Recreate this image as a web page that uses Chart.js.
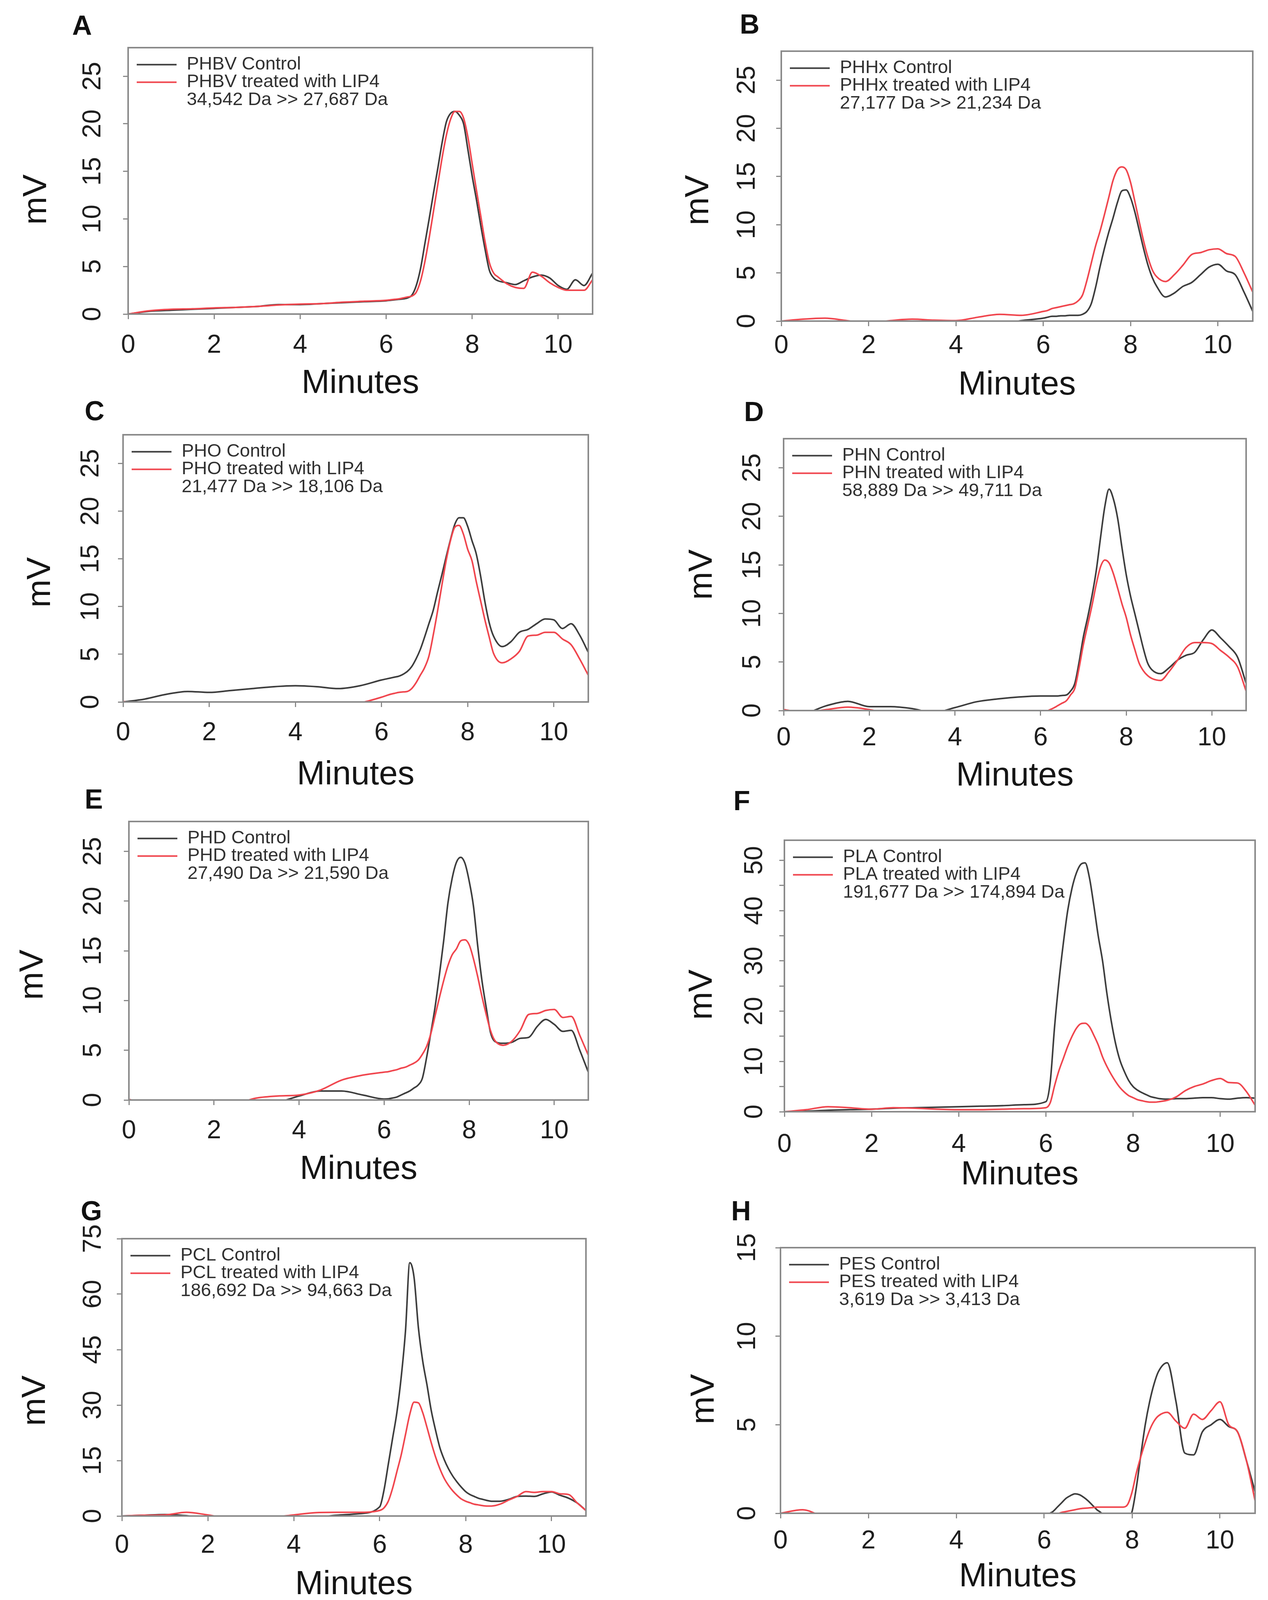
<!DOCTYPE html>
<html>
<head>
<meta charset="utf-8">
<script src="https://cdn.jsdelivr.net/npm/chart.js@4.4.1/dist/chart.umd.min.js"></script>
<style>
  html, body { margin: 0; background: #fff; }
  body { width: 3246px; position: relative; overflow: hidden; font-family: "Liberation Sans", Arial, sans-serif; }
  .panel { position: absolute; }
  .letter { position: absolute; font-weight: bold; color: #111; transform: translate(-50%, -50%); }
</style>
</head>
<body>
<script>
// retention time grid (minutes), shared by every trace
const minutes = [0, 0.5, 1, 1.5, 2, 2.5, 3, 3.5, 4, 4.5, 5, 5.5,
  6, 6.1, 6.2, 6.3, 6.4, 6.5, 6.6, 6.7, 6.8, 6.9, 7, 7.1, 7.2, 7.3, 7.4, 7.5, 7.6, 7.7, 7.8, 7.9, 8, 8.1, 8.2, 8.3, 8.4, 8.5, 8.6,
  8.8, 9, 9.2, 9.4, 9.6, 9.8, 10, 10.2, 10.4, 10.6, 10.8];

// detector signal (mV)
const phbvControl = [0, 0.3, 0.4, 0.5, 0.6, 0.7, 0.8, 1.0, 1.0, 1.1, 1.2, 1.3,
  1.4, 1.45, 1.5, 1.55, 1.6, 1.7, 2.0, 3.0, 4.8, 7.4, 10.0, 12.7, 15.3, 18.0, 20.2, 21.1, 21.3, 20.9, 20.0, 17.3, 14.5, 12.0, 9.3, 6.8, 4.6, 3.8, 3.5,
  3.3, 3.1, 3.5, 3.9, 4.1, 3.8, 3.0, 2.6, 3.6, 3.0, 4.3];
const phbvTreated = [0, 0.35, 0.5, 0.55, 0.65, 0.7, 0.8, 0.95, 1.05, 1.1, 1.25, 1.35,
  1.45, 1.5, 1.55, 1.6, 1.7, 1.8, 1.9, 2.3, 3.5, 5.5, 8.0, 10.8, 13.6, 16.4, 18.8, 20.5, 21.3, 21.3, 20.6, 18.6, 15.8, 13.0, 10.3, 7.6, 5.4, 4.3, 3.9,
  3.2, 2.8, 2.7, 4.4, 4.0, 3.3, 2.8, 2.5, 2.5, 2.5, 3.6];

const phhxControl = [0, -0.3, -0.3, -0.3, -0.3, -0.3, -0.3, -0.3, -0.3, -0.3, -0.3, 0.05,
  0.3, 0.4, 0.5, 0.5, 0.55, 0.55, 0.6, 0.6, 0.6, 0.7, 1.0, 1.8, 3.5, 5.6, 7.5, 9.2, 10.7, 12.3, 13.5, 13.6, 12.8, 11.3, 9.4, 7.5, 5.8, 4.5, 3.6,
  2.5, 2.9, 3.6, 4.0, 4.8, 5.6, 5.9, 5.2, 4.8, 3.0, 1.0];
const phhxTreated = [0, 0.2, 0.3, 0.05, -0.2, 0.05, 0.2, 0.1, 0.05, 0.4, 0.7, 0.6,
  1.0, 1.1, 1.3, 1.4, 1.5, 1.6, 1.7, 1.8, 2.1, 2.7, 4.2, 6.0, 7.8, 9.3, 11.0, 12.8, 14.6, 15.7, 16.0, 15.7, 14.4, 12.4, 10.3, 8.3, 6.6, 5.3, 4.6,
  4.1, 4.8, 5.8, 6.9, 7.1, 7.4, 7.5, 7.0, 6.7, 5.0, 3.0];

const phoControl = [0, 0.3, 0.8, 1.1, 1.0, 1.2, 1.4, 1.6, 1.7, 1.6, 1.4, 1.7,
  2.3, 2.4, 2.5, 2.6, 2.7, 2.9, 3.2, 3.7, 4.5, 5.5, 6.8, 8.2, 9.6, 11.5, 13.3, 15.2, 17.0, 18.6, 19.3, 19.3, 18.4, 16.9, 15.5, 13.2, 10.5, 8.3, 6.9,
  5.8, 6.3, 7.3, 7.6, 8.2, 8.7, 8.6, 7.7, 8.2, 7.0, 5.2];
const phoTreated = [0.05, -0.3, -0.3, -0.3, -0.3, -0.3, -0.3, -0.3, -0.3, -0.3, -0.3, -0.1,
  0.5, 0.65, 0.8, 0.9, 1.0, 1.05, 1.1, 1.4, 2.0, 2.8, 3.6, 4.8, 7.0, 9.5, 12.2, 14.8, 16.9, 18.3, 18.5, 17.6, 16.0, 14.8, 12.6, 10.6, 8.6, 6.8, 5.1,
  4.1, 4.5, 5.3, 6.9, 7.0, 7.3, 7.3, 6.6, 6.0, 4.5, 2.8];

const phnControl = [0.05, -0.2, 0.5, 0.95, 0.4, 0.4, 0.2, -0.2, 0.3, 0.9, 1.2, 1.4,
  1.5, 1.5, 1.5, 1.5, 1.5, 1.55, 1.6, 2.0, 2.8, 5.0, 7.6, 9.6, 11.8, 14.4, 17.8, 21.0, 22.8, 21.8, 19.8, 16.8, 14.0, 11.8, 10.0, 8.2, 6.4, 4.9, 4.2,
  3.8, 4.4, 5.2, 5.7, 6.0, 7.3, 8.3, 7.5, 6.6, 5.5, 2.8];
const phnTreated = [0.1, -0.2, 0.1, 0.35, 0.1, -0.3, -0.3, -0.3, -0.3, -0.3, -0.3, -0.3,
  -0.3, -0.15, 0.05, 0.25, 0.5, 0.75, 1.0, 1.6, 2.3, 4.4, 6.8, 8.8, 10.8, 13.0, 14.8, 15.5, 15.2, 14.1, 12.6, 11.0, 9.6, 7.8, 6.3, 4.9, 4.1, 3.6, 3.3,
  3.1, 4.0, 5.2, 6.5, 7.0, 7.0, 6.9, 6.2, 5.5, 4.5, 2.0];

const phdControl = [-0.3, -0.3, -0.3, -0.3, -0.3, -0.3, -0.3, -0.2, 0.4, 0.9, 0.9, 0.5,
  0.1, 0.12, 0.2, 0.3, 0.5, 0.7, 0.9, 1.2, 1.5, 2.2, 4.3, 6.8, 9.4, 12.6, 16.0, 19.8, 22.3, 23.9, 24.4, 23.8, 22.0, 19.5, 15.5, 12.0, 9.3, 6.8, 5.9,
  5.7, 5.8, 6.2, 6.3, 7.4, 8.1, 7.6, 6.9, 7.0, 5.0, 2.8];
const phdTreated = [0.05, -0.3, -0.3, -0.3, -0.3, -0.3, 0.2, 0.4, 0.5, 1.0, 2.0, 2.5,
  2.8, 2.85, 2.95, 3.05, 3.2, 3.3, 3.5, 3.7, 4.0, 4.6, 5.4, 6.7, 8.5, 10.3, 12.0, 13.5, 14.6, 15.2, 16.0, 16.1, 15.6, 14.2, 12.4, 10.4, 8.6, 7.0, 6.0,
  5.5, 5.9, 7.0, 8.6, 8.7, 9.0, 9.1, 8.3, 8.4, 6.5, 4.5];

const plaControl = [0, 0.1, 0.3, 0.4, 0.5, 0.7, 0.8, 0.9, 1.0, 1.1, 1.2, 1.4,
  2.0, 6.0, 17.0, 26.0, 33.5, 40.0, 44.5, 47.5, 49.2, 49.5, 46.5, 41.0, 35.0, 30.0, 23.5, 18.0, 13.5, 10.2, 8.0, 6.2, 5.0, 4.3, 3.8, 3.4, 3.0, 2.8, 2.6,
  2.5, 2.6, 2.6, 2.7, 2.8, 2.8, 2.6, 2.5, 2.7, 2.8, 2.7];
const plaTreated = [0, 0.4, 1.0, 0.8, 0.5, 0.8, 0.7, 0.5, 0.4, 0.4, 0.5, 0.6,
  0.8, 1.8, 5.2, 8.2, 10.6, 13.0, 15.0, 16.6, 17.5, 17.6, 16.9, 15.2, 13.3, 10.9, 9.0, 7.4, 6.0, 4.8, 3.9, 3.2, 2.8, 2.4, 2.2, 2.0, 1.9, 1.9, 2.0,
  2.3, 3.0, 4.2, 5.0, 5.5, 6.2, 6.6, 5.8, 5.7, 4.0, 1.3];

const pclControl = [0, 0.2, 0.4, 0.1, -0.5, -0.5, -0.5, -0.5, -0.5, -0.3, 0.2, 0.6,
  2.5, 7.0, 14.0, 21.0, 28.0, 37.5, 50.0, 68.5, 64.5, 51.0, 42.0, 35.5, 28.5, 23.2, 18.5, 15.3, 12.8, 10.8, 9.2, 7.8, 6.6, 5.8, 5.3, 4.8, 4.5, 4.2, 4.0,
  4.0, 4.5, 5.3, 5.4, 5.3, 6.0, 6.5, 5.6, 4.8, 3.5, 1.5];
const pclTreated = [0, 0.2, 0.3, 1.0, 0.3, -0.5, -0.5, -0.3, 0.3, 0.9, 1.0, 1.0,
  1.5, 2.2, 4.0, 7.5, 12.0, 16.5, 22.0, 27.5, 30.8, 30.6, 28.0, 24.0, 19.8, 16.0, 12.8, 10.2, 8.3, 6.8, 5.6, 4.6, 4.0, 3.6, 3.2, 3.0, 2.8, 2.7, 2.7,
  3.2, 4.3, 5.3, 6.6, 6.4, 6.6, 6.6, 6.0, 5.8, 3.5, 1.5];

const pesControl = [0, -0.3, -0.3, -0.3, -0.3, -0.3, -0.3, -0.3, -0.3, -0.3, -0.3, -0.3,
  -0.3, -0.05, 0.1, 0.35, 0.6, 0.85, 1.0, 1.1, 1.05, 0.9, 0.7, 0.45, 0.2, 0.02, -0.3, -0.4, -0.4, -0.4, -0.4, -0.3, 0.1, 1.5, 3.3, 5.0, 6.3, 7.3, 8.0,
  8.5, 6.3, 3.4, 3.3, 4.6, 5.0, 5.3, 4.9, 4.6, 3.0, 1.2];
const pesTreated = [0, 0.2, -0.2, -0.3, -0.3, -0.3, -0.3, -0.3, -0.3, -0.3, -0.3, -0.3,
  -0.3, -0.3, -0.2, -0.05, 0.05, 0.1, 0.15, 0.2, 0.25, 0.28, 0.3, 0.32, 0.35, 0.35, 0.35, 0.35, 0.35, 0.35, 0.35, 0.5, 1.2, 2.3, 3.2, 4.0, 4.7, 5.2, 5.5,
  5.7, 5.2, 4.8, 5.6, 5.3, 5.8, 6.3, 5.0, 4.6, 3.0, 0.7];

// legend texts
const phbvNames = ['PHBV Control', 'PHBV treated with LIP4', '34,542 Da >> 27,687 Da'];
const phhxNames = ['PHHx Control', 'PHHx treated with LIP4', '27,177 Da >> 21,234 Da'];
const phoNames = ['PHO Control', 'PHO treated with LIP4', '21,477 Da >> 18,106 Da'];
const phnNames = ['PHN Control', 'PHN treated with LIP4', '58,889 Da >> 49,711 Da'];
const phdNames = ['PHD Control', 'PHD treated with LIP4', '27,490 Da >> 21,590 Da'];
const plaNames = ['PLA Control', 'PLA treated with LIP4', '191,677 Da >> 174,894 Da'];
const pclNames = ['PCL Control', 'PCL treated with LIP4', '186,692 Da >> 94,663 Da'];
const pesNames = ['PES Control', 'PES treated with LIP4', '3,619 Da >> 3,413 Da'];

// ticks
const xTicks = [0, 2, 4, 6, 8, 10];
const yTicks25 = [0, 5, 10, 15, 20, 25];
const yTicksPLA = [0, 5, 10, 15, 20, 25, 30, 35, 40, 45, 50];
const yTicksPCL = [0, 15, 30, 45, 60, 75];
const yTicksPES = [0, 5, 10, 15];

// layout of the 8 panels, in the 3246x4904 figure's pixels
// box = plot frame; *Off = distance of label centres from the frame
const panels = [
  { letter: 'A', at: [210, 78], box: [328, 146, 1517, 963], control: phbvControl, treated: phbvTreated, names: phbvNames,
    yMax: 28, yTicks: yTicks25, xTickOff: 97, minOff: 214, yTickOff: 89, mvOff: 234, mvDrop: 55 },
  { letter: 'B', at: [1919, 74], box: [2000, 157, 3207, 984], control: phhxControl, treated: phhxTreated, names: phhxNames,
    yMax: 28, yTicks: yTicks25, xTickOff: 76, minOff: 197, yTickOff: 86, mvOff: 211, mvDrop: 44 },
  { letter: 'C', at: [242, 1260], box: [315, 1332, 1506, 2152], control: phoControl, treated: phoTreated, names: phoNames,
    yMax: 28, yTicks: yTicks25, xTickOff: 95, minOff: 224, yTickOff: 81, mvOff: 211, mvDrop: 36 },
  { letter: 'D', at: [1930, 1262], box: [2006, 1344, 3190, 2178], control: phnControl, treated: phnTreated, names: phnNames,
    yMax: 28, yTicks: yTicks25, xTickOff: 85, minOff: 202, yTickOff: 78, mvOff: 208, mvDrop: 0 },
  { letter: 'E', at: [240, 2450], box: [330, 2518, 1506, 3371], control: phdControl, treated: phdTreated, names: phdNames,
    yMax: 28, yTicks: yTicks25, xTickOff: 96, minOff: 213, yTickOff: 90, mvOff: 245, mvDrop: 38 },
  { letter: 'F', at: [1899, 2454], box: [2008, 2575, 3213, 3408], control: plaControl, treated: plaTreated, names: plaNames,
    yMax: 54, yTicks: yTicksPLA, labelEvery: 10, xTickOff: 102, minOff: 194, yTickOff: 75, mvOff: 210, mvDrop: 58 },
  { letter: 'G', at: [234, 3712], box: [312, 3797, 1500, 4646], control: pclControl, treated: pclTreated, names: pclNames,
    yMax: 75, yTicks: yTicksPCL, xTickOff: 91, minOff: 211, yTickOff: 72, mvOff: 221, mvDrop: 74 },
  { letter: 'H', at: [1897, 3712], box: [1998, 3824, 3213, 4638], control: pesControl, treated: pesTreated, names: pesNames,
    yMax: 15, yTicks: yTicksPES, xTickOff: 86, minOff: 195, yTickOff: 83, mvOff: 195, mvDrop: 56 }
];

// the window can be shorter than the figure: squeeze the layout vertically to fit
const FIG_H = 4904;
const SY = Math.min(1, (window.innerHeight || FIG_H) / FIG_H);
document.body.style.height = Math.round(FIG_H * SY) + 'px';

const TICK_FONT = 66, TITLE_FONT = 86, LEGEND_FONT = 47, LETTER_FONT = 70;
const TICK_LEN = 13;
const AXIS_W = 330, AXIS_H = 240, PAD_T = 100, PAD_R = 40;
const frameColor = '#8a8a8a';
const controlColor = '#3d3d3d';
const treatedColor = '#f0464e';

Chart.defaults.font.family = '"Liberation Sans", Arial, sans-serif';

const measure = document.createElement('canvas').getContext('2d');
measure.font = TICK_FONT + 'px "Liberation Sans", Arial, sans-serif';
const halfWidest = measure.measureText('25').width / 2;
measure.font = TITLE_FONT + 'px "Liberation Sans", Arial, sans-serif';
const spaceW = measure.measureText(' ').width;

// box around the plot + the legend drawn inside it (like R's legend())
const boxLegend = {
  id: 'boxLegend',
  afterDraw(chart, args, opts) {
    const { ctx, chartArea: a } = chart;
    ctx.save();
    ctx.strokeStyle = frameColor;
    ctx.lineWidth = 4;
    ctx.strokeRect(a.left, a.top, a.right - a.left, a.bottom - a.top);
    ctx.font = LEGEND_FONT + 'px "Liberation Sans", Arial, sans-serif';
    ctx.textBaseline = 'middle';
    ctx.fillStyle = '#303030';
    const rows = chart.data.datasets.map(d => ({ text: d.label, color: d.borderColor }));
    rows.push({ text: opts.note });
    rows.forEach((row, i) => {
      const y = a.top + (52 + i * 54) * SY;
      if (row.color) {
        ctx.strokeStyle = row.color;
        ctx.lineWidth = 4;
        ctx.beginPath();
        ctx.moveTo(a.left + 22, y);
        ctx.lineTo(a.left + 124, y);
        ctx.stroke();
      }
      ctx.fillText(row.text, a.left + 150, y);
    });
    ctx.restore();
  }
};

panels.forEach(p => {
  const [bl, btRef, br, bbRef] = p.box;
  const bt = Math.round(btRef * SY), bb = Math.round(bbRef * SY);
  const w = (br - bl) + AXIS_W + PAD_R;
  const h = (bb - bt) + PAD_T + AXIS_H;

  const div = document.createElement('div');
  div.className = 'panel';
  div.style.left = (bl - AXIS_W) + 'px';
  div.style.top = (bt - PAD_T) + 'px';
  div.style.width = w + 'px';
  div.style.height = h + 'px';
  const canvas = document.createElement('canvas');
  canvas.width = w;
  canvas.height = h;
  canvas.style.width = w + 'px';
  canvas.style.height = h + 'px';
  div.appendChild(canvas);
  document.body.appendChild(div);

  const letter = document.createElement('div');
  letter.className = 'letter';
  letter.textContent = p.letter;
  letter.style.fontSize = LETTER_FONT + 'px';
  letter.style.left = p.at[0] + 'px';
  letter.style.top = Math.round(p.at[1] * SY) + 'px';
  document.body.appendChild(letter);

  // label paddings derived from the measured offsets
  const xTickPad = Math.max(0, p.xTickOff * SY - TICK_LEN - TICK_FONT * 0.6);
  const minPad = Math.max(0, AXIS_H - p.minOff * SY - TITLE_FONT * 0.6);
  const yTickPad = Math.max(0, p.yTickOff - TICK_LEN - halfWidest);
  const mvPad = Math.max(0, AXIS_W - p.mvOff - TITLE_FONT * 0.6);
  const mvSpaces = Math.round(2 * p.mvDrop * SY / spaceW);

  const toPoints = arr => arr.map((v, i) => ({ x: minutes[i], y: v }));
  const lineStyle = {
    pointRadius: 0,
    borderWidth: 4,
    cubicInterpolationMode: 'monotone',
    borderJoinStyle: 'round',
    fill: false
  };

  new Chart(canvas, {
    type: 'line',
    data: {
      datasets: [
        Object.assign({ label: p.names[0], data: toPoints(p.control), borderColor: controlColor, order: 1 }, lineStyle),
        Object.assign({ label: p.names[1], data: toPoints(p.treated), borderColor: treatedColor, order: 0 }, lineStyle)
      ]
    },
    options: {
      responsive: false,
      animation: false,
      devicePixelRatio: 1,
      layout: { padding: { top: PAD_T, right: PAD_R, left: 0, bottom: 0 } },
      plugins: {
        legend: { display: false },
        tooltip: { enabled: false },
        boxLegend: { note: p.names[2] }
      },
      scales: {
        x: {
          type: 'linear',
          min: 0,
          max: 10.8,
          afterBuildTicks: axis => { axis.ticks = xTicks.map(v => ({ value: v })); },
          afterFit: scale => { scale.height = AXIS_H; },
          ticks: { font: { size: TICK_FONT }, color: '#1e1e1e', padding: xTickPad, maxRotation: 0, autoSkip: false },
          grid: { drawOnChartArea: false, drawTicks: true, tickLength: TICK_LEN, color: frameColor, lineWidth: 3 },
          border: { display: true, color: frameColor, width: 4 },
          title: { display: true, text: 'Minutes', color: '#151515', font: { size: TITLE_FONT }, padding: { top: 0, bottom: minPad } }
        },
        y: {
          type: 'linear',
          min: 0,
          max: p.yMax,
          afterBuildTicks: axis => { axis.ticks = p.yTicks.map(v => ({ value: v })); },
          afterFit: scale => { scale.width = AXIS_W; },
          ticks: {
            font: { size: TICK_FONT }, color: '#1e1e1e', padding: yTickPad, minRotation: 90, maxRotation: 90,
            crossAlign: 'center', autoSkip: false,
            callback: v => (p.labelEvery && v % p.labelEvery !== 0) ? '' : String(v)
          },
          grid: { drawOnChartArea: false, drawTicks: true, tickLength: TICK_LEN, color: frameColor, lineWidth: 3 },
          border: { display: true, color: frameColor, width: 4 },
          title: { display: true, text: 'mV' + ' '.repeat(mvSpaces), color: '#151515', font: { size: TITLE_FONT }, padding: { top: mvPad, bottom: 0 } }
        }
      }
    },
    plugins: [boxLegend]
  });
});
</script>
</body>
</html>
